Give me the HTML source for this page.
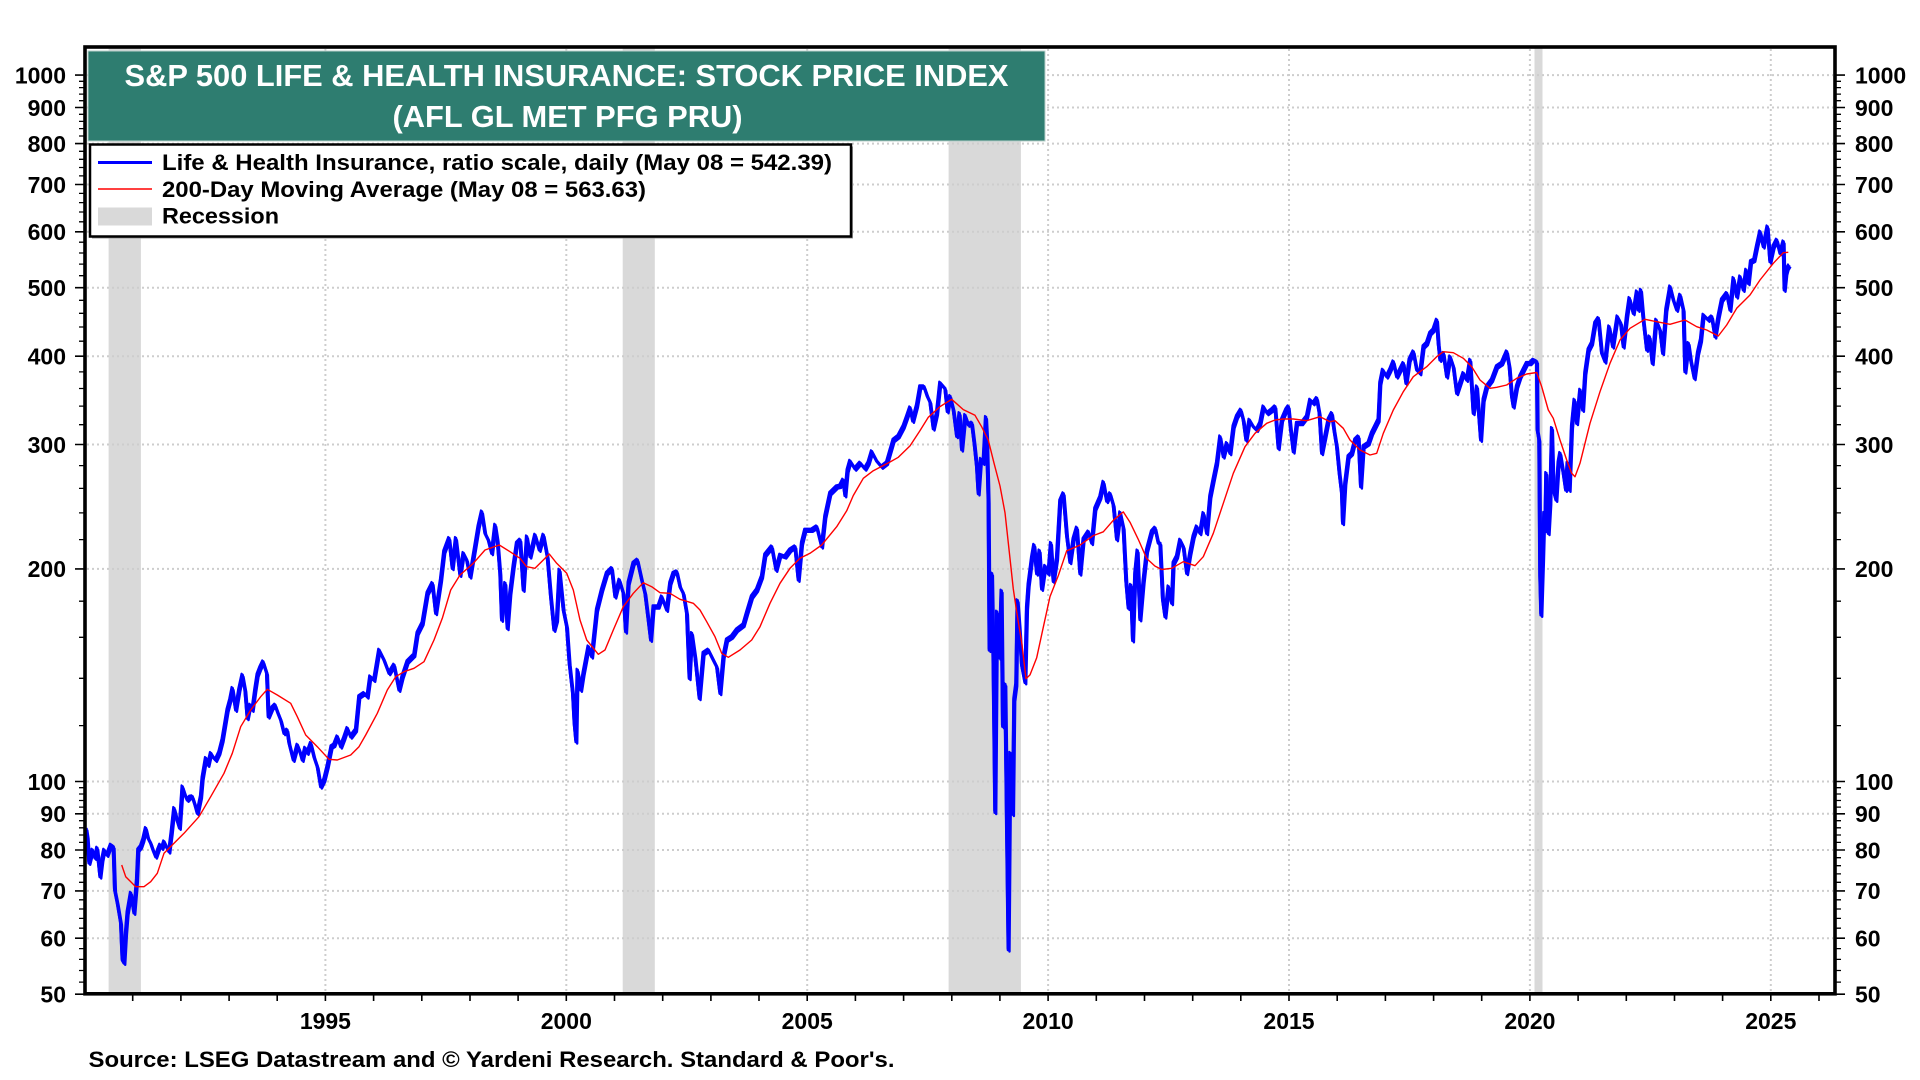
<!DOCTYPE html>
<html>
<head>
<meta charset="utf-8">
<style>
html,body{margin:0;padding:0;background:#ffffff;}
svg{display:block;}
text{font-family:"Liberation Sans",Arial,sans-serif;font-weight:bold;}
</style>
</head>
<body>
<svg width="1920" height="1080" viewBox="0 0 1920 1080" xmlns="http://www.w3.org/2000/svg" xmlns:xlink="http://www.w3.org/1999/xlink">
<defs>
<polyline id="blueser" fill="none" stroke-linejoin="round" points="
86,828 87.3,836.7 89,863 92.3,850 95,858 97,848 100,876.7 102,860 104,850 107,855 110.7,845 113.3,846.7 114.7,890 117.3,903 120.7,923 122.3,960 124,963 125.7,933 127.3,913 130.7,893 134,913 136.7,880 138,850 140.7,846.7 143,840 145.7,828.3 148,838 150.7,843.3 153,850 155.7,856.7 158,850 160,845 162,848 164,841.7 166.5,847 169,851.7 171.3,833.3 174,808.3 177,820 179.5,828 182.3,786.7 185,795 187.3,800 190,797 192.3,796.7 195,805 197.3,813.3 200.7,796.7 202.3,778.3 205.7,758.3 208,765 210.7,753.3 213,757 215.7,760 219,753 222.3,740 227.3,710 230,700 232.3,688.3 235.7,710 239,690 242.3,675 245,690 247.3,718.3 250,705 252.3,710 255,690 257.3,675 260,668 263,661.7 266.7,673.3 268.3,716.7 272,708 275,705 277.5,712 280.7,720 284,733.3 287,730 289,743 293.3,760 297.3,745 300,752 302.3,760 305,748 307.3,753 310.7,743.3 314,757 317.3,766.7 320.7,786.7 324,780 327.3,766.7 331.3,746.7 334,745 337.3,736.7 340.7,746.7 344,738 347.3,728.3 350.7,736.7 355.7,730 359,696.7 364,693.3 367.3,696.7 370,676.7 374,680 379,650 384,660 389,673.3 394,665 399,690 402.3,676.7 407.3,661.7 414,655 417.3,633.3 422.3,623.3 427.3,593.3 432.3,583.3 435.7,613.3 440.7,580 444,551.7 449,538.3 452.3,568.3 455.7,538.3
460,575 463.3,553.3 466.7,560 470,576.7 475,546.7 478.3,526.7 481.7,511.7 485,533.3 488.3,540 491.7,553.3 495,525 497.3,540 500,573.3 501.7,620 505,583.3 507.3,628.3 510,593.3 513.3,566.7 516.7,543.3 520,540 523.3,590 526.7,536.7 530,556.7 535,535 539.3,550 543.3,535 547.3,556.7 550.7,596.7 554,630 556.7,620 559.3,570 563.3,610 566.7,626.7 569.3,663.3 572.7,693.3 574.3,723.3 576,741.7 577.3,670 580.7,690 583.3,673.3 588.3,646.7 591.7,656.7 596.7,610 601.7,590 606.7,573.3 611.7,568.3 615,596.7 619.3,580 623.3,593.3 625.7,631.7 628.3,583.3 633.3,563.3 637.3,560 641.7,580 645,593.3 648.3,620 650.7,640 653.3,606.7 658.3,606.7 661.7,596.7 666.7,610 670,583.3 673.3,573.3 676.7,571.7 680,586.7 683.3,593.3 686.7,613.3 689.3,678.3 691.7,633.3 695,656.7 699.3,698.3 703.3,653.3 708.3,650 713.3,660 716.7,666.7 720,693.3 723.3,656.7 726.7,640 731.7,636.7 736.7,630 743.3,625 746.7,613.3 751.7,596.7 756.7,590 761.7,576.7 765,555 771.7,546.7 776,570 780,555 785,556.7 790,550 795,546.7 798.3,580 801.7,543.3 805,530 811.7,530 816.7,526.7 821.7,546.7 825,516.7 830,493.3 836.7,486.7
840,486 843,480 845,495.5 847.3,470.7 850,461.1 855,468.8 860,463 865,468.8 868.3,463 871.7,451.6 876.7,461.1 881.7,466.9 886.7,463 890,451.6 893.3,440.2 898.3,436.3 903.3,426.8 906.7,417.3 910,407.7 912.7,421 916.7,405.8 920,386.7 924,386.7 927.3,396.3 930,402 933.3,428.7 936.7,413.4 940,382.9 945,388.6 947.3,411.5 950,396.3 953.3,409.6 956.7,436.3 959.3,413.4 961.7,449.7 965,415.3 968.3,424.9 971.7,423 974.3,444 976.7,466.9 978.3,493.6 980.7,459.2 983.3,463 985.7,417.3 986.7,436.3 988.3,501.2 989.3,650.1 991.7,573.7 993.3,665.3 995,812.3 996.7,611.9 999.3,657.7 1001.3,590.9 1002.7,726.4 1005,684.4 1006.7,823.7 1008.3,949.7 1010,753.1 1012.7,814.2 1014,699.7 1016,684.4 1017.3,600.5 1019.3,627.2 1021.7,665.3 1025,682.5 1026.7,608.1 1028.3,585.2 1031.7,558.5 1034,545.1 1036.7,573.7 1039.3,550.8 1041.7,589 1045,566.1 1048.3,573.7 1050.7,543.2 1053.3,581.4 1056.7,558.5 1060,501.2 1063.3,493.6 1066.7,535.6 1070,562.3 1073.3,539.4 1076.7,527.9 1080,573.7 1083.3,539.4 1088.3,531.8 1091.7,543.2 1095,508.9 1100,497.4 1103.3,482.1 1106.7,501.2 1110,493.6 1113.3,505 1116.7,539.4 1120,512.7 1123.3,527.9 1126,581.4 1128.3,608.1 1130.7,585.2 1132.7,640.5 1135,573.7 1137.3,550.8 1140,619.5 1143.3,581.4 1146.7,550.8 1151.7,531.8 1155,528 1158.3,543.2
1160,543.3 1162.7,600 1165,616.7 1168.3,586.7 1171.7,603.3 1173.3,563.3 1176.7,556.7 1180,540 1183.3,546.7 1186.7,573.3 1190,553.3 1193.3,536.7 1196.7,526.7 1200,533.3 1203.3,513.3 1206.7,533.3 1210,496.7 1213.3,480 1216.7,463.3 1220,436.7 1223.3,456.7 1226.7,443.3 1230,453.3 1233.3,426.7 1236.7,416.7 1240.7,410 1243.3,420 1246,440 1249.3,420 1253.3,426.7 1256.7,430 1260,423.3 1263.3,406.7 1267.3,413.3 1271.7,410 1275,406.7 1278.3,448.3 1281.7,420 1286,410 1288.3,406.7 1290.7,430 1293.3,451.7 1296.7,423.3 1301.7,423.3 1306.7,416.7 1310,400 1313.3,403.3 1316.7,398.3 1319.3,413.3 1321.7,453.3 1325,436.7 1328.3,420 1331.7,413.3 1334,430 1336.7,446.7 1339.3,473.3 1341.7,493.3 1342.7,523.3 1345,483.3 1348.3,456.7 1351.7,453.3 1355,440 1358.3,436.7 1360.7,486.7 1363.3,446.7 1368.3,443.3 1371.7,433.3 1375,426.7 1378.3,420 1380,383.3 1382.7,370 1386.7,376.7 1390,370 1393.3,361.7 1396.7,376.7 1400,370 1403.3,363.3 1406,383.3 1409.3,360 1413.3,351.7 1416.7,370 1420,373.3 1423.3,346.7 1426.7,343.3 1430,333.3 1433.3,330 1436.7,320 1438.3,343.3 1440,360 1443.3,353.3 1446.7,376.7 1450,356.7 1453.3,366.7 1456.7,393.3 1460,383.3 1463.3,373.3 1466.7,380 1470,360 1473.3,413.3 1476.7,386.7 1480.7,440 1483.3,400 1486.7,386.7 1491.7,380 1496.7,366.7 1501.7,363.3 1506.7,351.7 1509.3,366.7 1511.7,396.7 1513.3,406.7 1516.7,386.7 1520,376.7 1523.3,370 1526.7,363.3
1530,363.3 1533.3,360 1536.7,361.7 1537.3,430 1539,440 1540,576.7 1541,615 1542.7,560 1544,513.3 1545,530 1546,473.3 1548.3,533.3 1550,503 1551.7,428.3 1553.3,490 1556,500 1558.3,463 1560,453.3 1563.3,473.3 1565.7,490 1567.3,463.3 1569.3,490 1571.7,426.7 1574.3,400 1576.7,423.3 1580,390 1582.7,410 1585,373.3 1588.3,350 1591.7,343.3 1595,323.3 1598.3,318.3 1601.7,353.3 1605,361.7 1609,326.7 1612.7,346.7 1617.3,316.7 1620.7,323.3 1623.3,346.7 1626.7,316.7 1629.3,298.3 1633.3,313.3 1636.7,291.7 1638.3,310 1640.7,290 1643.3,320 1646.7,350 1649.3,336.7 1652.3,363.3 1656,320 1660,330 1662.7,353.3 1666,310 1670,286.7 1673.3,300 1676.7,310 1680,295 1683.3,310 1685,371.7 1688.3,343.3 1690.7,360 1694.3,378.3 1697.7,353.3 1700.7,340 1703.3,315 1708.3,320 1711.7,316.7 1715,336.7 1718.3,316.7 1721.7,300 1726.7,293.3 1730,310 1733.3,278.3 1736.7,296.7 1740,276.7 1743.3,290 1746,270 1748.3,283.3 1750.7,261.7 1754,260 1756.7,246.7 1760,231.7 1763.3,246.7 1767.3,226.7 1770,261.7 1773.3,246.7 1776.7,240 1780,253.3 1783.3,241.7 1784.3,290 1786,273.3 1787.3,268.3 1789.3,265"/>
</defs>
<rect x="0" y="0" width="1920" height="1080" fill="#ffffff"/>

<!-- recession shading -->
<g fill="#d9d9d9">
<rect x="108.6" y="47" width="32.3" height="946.5"/>
<rect x="622.7" y="47" width="32.1" height="946.5"/>
<rect x="948.6" y="47" width="72.3" height="946.5"/>
<rect x="1534.5" y="47" width="8" height="946.5"/>
</g>

<!-- gridlines -->
<g stroke="#cdcdcd" stroke-width="2" stroke-dasharray="2 3" fill="none">
<path d="M87 938.2H1833M87 890.9H1833M87 850H1833M87 813.8H1833M87 781.5H1833M87 568.9H1833M87 444.5H1833M87 356.2H1833M87 287.7H1833M87 231.8H1833M87 184.5H1833M87 143.6H1833M87 107.5H1833M87 75.1H1833"/>
<path d="M325.4 49V992M566.3 49V992M807.2 49V992M1048.1 49V992M1289 49V992M1529.9 49V992M1770.8 49V992"/>
</g>

<!-- blue series (thickened band to mimic daily noise) -->
<use xlink:href="#blueser" href="#blueser" stroke="#0000ff" stroke-width="3.3"/>
<use xlink:href="#blueser" href="#blueser" stroke="#0000ff" stroke-width="2.4" transform="translate(1.2,1.8)"/>
<use xlink:href="#blueser" href="#blueser" stroke="#0000ff" stroke-width="2" transform="translate(-0.8,-1.4)"/>

<!-- red moving average -->
<polyline fill="none" stroke="#ff0000" stroke-width="1.4" stroke-linejoin="round" points="
121.7,865 125.7,876.7 130,881 135.7,886.7 144,886.7 150.7,881.7 157.3,873.3 164,853.3 174,843.3 184,833.3 199,816.7 210.7,796.7 224,773.3 232.3,753.3 240.7,726.7 250.7,710 260.7,696.7 267.3,689.3 277.3,695 290.7,703.3 297.3,716.7 305.7,735 317.3,746.7 329,759.3 337.3,760 350.7,755 359,746.7 365.7,735 377.3,713.3 387.3,690 395.7,676.7 404,671.7 414,668.3 424,661.7 434,640 442.3,618.3 450.7,590 460,575 473.3,563.3 485,550 499.3,545 510,551.7 520,558.3 526.7,566.7 535,568.3 543.3,560 549.3,554 556.7,563.3 566.7,573.3 573.3,590 580,620 586.7,640 598.3,654.3 605,650 613.3,630 623.3,606.7 633.3,593.3 643.3,582.7 651.7,586.7 660,592.7 670,593.3 680,599.3 693.3,603.3 700,610 706.7,621.7 715,636.7 721.7,653.3 728.3,657.3 740,650 751.7,640 760,626.7 770,603.3 780,583.3 790,568.3 800,558.3 810,553.3 821.7,545 836.7,526.7 846.7,510.8 853.3,495.5 863.3,478.3 873.3,470.7 886.7,463.8 898.3,457.3 910,445.9 920,430.6 928.3,417.3 940,406.6 951.7,399.3 963.3,409.6 975,415.3 981.7,426.8 988.3,440.2 994,463.1 1000,486 1005,512.7 1010,558.5 1013.3,589 1016.7,611.9 1021.7,642.4 1026,678.7 1030,674.9 1036.7,657.7 1043.3,627.2 1050,596.6 1058.3,575.6 1066.7,550.8 1080,545.1 1093.3,535.6 1103.3,531.8 1113.3,520.3 1123.3,511.9 1130,522.2 1138.3,539.4 1146.7,558.5 1155,566.1 1161.7,569.5 1171.7,568.3 1183.3,561.7 1195,565.7 1203.3,556.7 1213.3,533.3 1223.3,503.3 1233.3,473.3 1245,446.7 1255,433.3 1266.7,423.3 1275,420 1283.3,419 1293.3,419 1306.7,420.7 1320,416.7 1330,421.7 1335,420.7 1343.3,428.3 1350,440 1360,450 1370,455 1376.7,453.3 1383.3,433.3 1393.3,410 1403.3,391.7 1413.3,376.7 1426.7,366.7 1436.7,356.7 1443.3,351.7 1453.3,352.7 1463.3,358.3 1471.7,366.7 1480,380 1490,388.3 1496.7,387.3 1506.7,385 1516.7,378.3 1526.7,374 1536.7,372.5 1541.7,386.7 1548.3,410 1553.3,418.3 1560,440 1566.7,460 1571.7,473.3 1575,476.7 1580,463.3 1590,423.3 1600,391.7 1610,363.3 1620,340 1630,328.3 1645,319.3 1656.7,321.7 1670,324.3 1685,320 1696.7,326.7 1706.7,330 1718.3,336 1726.7,325 1736.7,308.3 1750,295 1760,280 1773.3,263.3 1783.3,252.7 1788.3,252.3"/>

<!-- title box -->
<rect x="88" y="51" width="957" height="90" fill="#2e7d70" stroke="#b8cfca" stroke-width="1"/>
<text x="566.5" y="86" font-size="30.5" fill="#ffffff" text-anchor="middle" textLength="884" lengthAdjust="spacingAndGlyphs">S&amp;P 500 LIFE &amp; HEALTH INSURANCE: STOCK PRICE INDEX</text>
<text x="567.5" y="127" font-size="30.5" fill="#ffffff" text-anchor="middle" textLength="350" lengthAdjust="spacingAndGlyphs">(AFL GL MET PFG PRU)</text>

<!-- legend -->
<rect x="92" y="146.5" width="761" height="92" fill="#9a9a9a"/>
<rect x="90" y="144.5" width="761" height="92" fill="#ffffff" stroke="#000000" stroke-width="2.5"/>
<line x1="98" y1="162.5" x2="152" y2="162.5" stroke="#0000ff" stroke-width="3"/>
<line x1="98" y1="189" x2="152" y2="189" stroke="#ff0000" stroke-width="1.4"/>
<rect x="98" y="207.5" width="54" height="18" fill="#d9d9d9"/>
<text x="162" y="170" font-size="22.5" fill="#000" textLength="670" lengthAdjust="spacingAndGlyphs">Life &amp; Health Insurance, ratio scale, daily (May 08 = 542.39)</text>
<text x="162" y="197" font-size="22.5" fill="#000" textLength="484" lengthAdjust="spacingAndGlyphs">200-Day Moving Average (May 08 = 563.63)</text>
<text x="162" y="223.5" font-size="22.5" fill="#000" textLength="117" lengthAdjust="spacingAndGlyphs">Recession</text>

<!-- axis ticks -->
<g stroke="#000" stroke-width="1.6" fill="none">
<path d="M75 994.2H84M75 938.2H84M75 890.9H84M75 850H84M75 813.8H84M75 781.5H84M75 568.9H84M75 444.5H84M75 356.2H84M75 287.7H84M75 231.8H84M75 184.5H84M75 143.6H84M75 107.5H84M75 75.1H84
M1836 994.2H1845M1836 938.2H1845M1836 890.9H1845M1836 850H1845M1836 813.8H1845M1836 781.5H1845M1836 568.9H1845M1836 444.5H1845M1836 356.2H1845M1836 287.7H1845M1836 231.8H1845M1836 184.5H1845M1836 143.6H1845M1836 107.5H1845M1836 75.1H1845"/>
<path stroke-width="1.3" d="M79 982.1H84M79 970.5H84M79 959.4H84M79 948.6H84M79 928.2H84M79 918.4H84M79 909H84M79 899.8H84M79 882.3H84M79 873.9H84M79 865.7H84M79 857.7H84M79 842.4H84M79 835H84M79 827.8H84M79 820.7H84M79 807.1H84M79 800.5H84M79 794H84M79 787.7H84M79 725.6H84M79 678.3H84M79 637.3H84M79 601.2H84M79 539.6H84M79 512.9H84M79 488.4H84M79 465.6H84M79 424.7H84M79 406.1H84M79 388.5H84M79 371.9H84M79 341.2H84M79 327H84M79 313.3H84M79 300.3H84M79 275.7H84M79 264.1H84M79 253H84M79 242.2H84M79 221.8H84M79 212H84M79 202.6H84M79 193.4H84M79 175.9H84M79 167.5H84M79 159.3H84M79 151.3H84M79 136H84M79 128.6H84M79 121.4H84M79 114.3H84M79 100.7H84M79 94.1H84M79 87.6H84M79 81.3H84
M1836 982.1H1841M1836 970.5H1841M1836 959.4H1841M1836 948.6H1841M1836 928.2H1841M1836 918.4H1841M1836 909H1841M1836 899.8H1841M1836 882.3H1841M1836 873.9H1841M1836 865.7H1841M1836 857.7H1841M1836 842.4H1841M1836 835H1841M1836 827.8H1841M1836 820.7H1841M1836 807.1H1841M1836 800.5H1841M1836 794H1841M1836 787.7H1841M1836 725.6H1841M1836 678.3H1841M1836 637.3H1841M1836 601.2H1841M1836 539.6H1841M1836 512.9H1841M1836 488.4H1841M1836 465.6H1841M1836 424.7H1841M1836 406.1H1841M1836 388.5H1841M1836 371.9H1841M1836 341.2H1841M1836 327H1841M1836 313.3H1841M1836 300.3H1841M1836 275.7H1841M1836 264.1H1841M1836 253H1841M1836 242.2H1841M1836 221.8H1841M1836 212H1841M1836 202.6H1841M1836 193.4H1841M1836 175.9H1841M1836 167.5H1841M1836 159.3H1841M1836 151.3H1841M1836 136H1841M1836 128.6H1841M1836 121.4H1841M1836 114.3H1841M1836 100.7H1841M1836 94.1H1841M1836 87.6H1841M1836 81.3H1841"/>
<path stroke-width="1.6" d="M132.7 995V1001M180.9 995V1001M229.1 995V1001M277.2 995V1001M325.4 995V1001M373.6 995V1001M421.8 995V1001M470 995V1001M518.1 995V1001M566.3 995V1001M614.5 995V1001M662.7 995V1001M710.9 995V1001M759 995V1001M807.2 995V1001M855.4 995V1001M903.6 995V1001M951.8 995V1001M999.9 995V1001M1048.1 995V1001M1096.3 995V1001M1144.5 995V1001M1192.7 995V1001M1240.8 995V1001M1289 995V1001M1337.2 995V1001M1385.4 995V1001M1433.6 995V1001M1481.7 995V1001M1529.9 995V1001M1578.1 995V1001M1626.3 995V1001M1674.5 995V1001M1722.6 995V1001M1770.8 995V1001M1819 995V1001"/>
</g>

<!-- frame -->
<rect x="85" y="47" width="1750" height="946.8" fill="none" stroke="#000000" stroke-width="3.6"/>

<!-- left axis labels -->
<g font-size="23" fill="#000" text-anchor="end">
<text x="66" y="1002.5">50</text>
<text x="66" y="946.5">60</text>
<text x="66" y="899.2">70</text>
<text x="66" y="858.3">80</text>
<text x="66" y="822.1">90</text>
<text x="66" y="789.8">100</text>
<text x="66" y="577.2">200</text>
<text x="66" y="452.8">300</text>
<text x="66" y="364.5">400</text>
<text x="66" y="296">500</text>
<text x="66" y="240.1">600</text>
<text x="66" y="192.8">700</text>
<text x="66" y="151.9">800</text>
<text x="66" y="115.8">900</text>
<text x="66" y="83.4">1000</text>
</g>

<!-- right axis labels -->
<g font-size="23" fill="#000" text-anchor="start">
<text x="1855" y="1002.5">50</text>
<text x="1855" y="946.5">60</text>
<text x="1855" y="899.2">70</text>
<text x="1855" y="858.3">80</text>
<text x="1855" y="822.1">90</text>
<text x="1855" y="789.8">100</text>
<text x="1855" y="577.2">200</text>
<text x="1855" y="452.8">300</text>
<text x="1855" y="364.5">400</text>
<text x="1855" y="296">500</text>
<text x="1855" y="240.1">600</text>
<text x="1855" y="192.8">700</text>
<text x="1855" y="151.9">800</text>
<text x="1855" y="115.8">900</text>
<text x="1855" y="83.4">1000</text>
</g>

<!-- x axis labels -->
<g font-size="23" fill="#000" text-anchor="middle">
<text x="325.4" y="1029">1995</text>
<text x="566.3" y="1029">2000</text>
<text x="807.2" y="1029">2005</text>
<text x="1048.1" y="1029">2010</text>
<text x="1289" y="1029">2015</text>
<text x="1529.9" y="1029">2020</text>
<text x="1770.8" y="1029">2025</text>
</g>

<!-- source -->
<text x="88.5" y="1067" font-size="22.5" fill="#000" textLength="806" lengthAdjust="spacingAndGlyphs">Source: LSEG Datastream and © Yardeni Research. Standard &amp; Poor's.</text>
</svg>
</body>
</html>
